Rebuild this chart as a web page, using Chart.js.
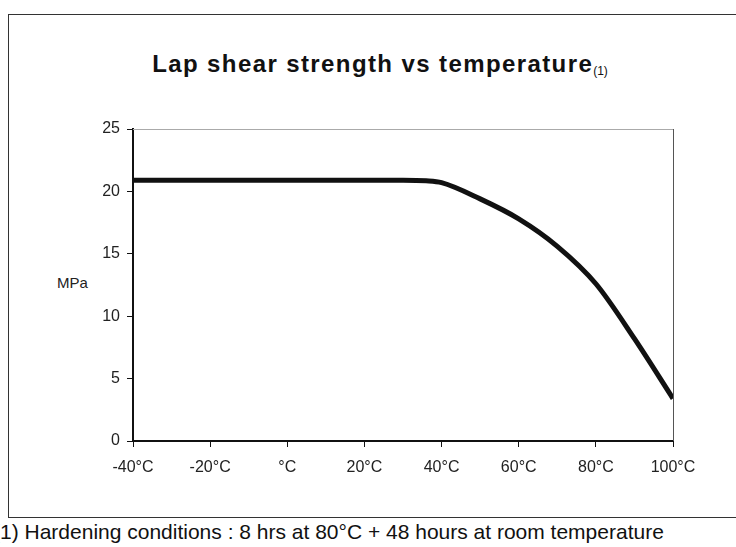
<!DOCTYPE html>
<html>
<head>
<meta charset="utf-8">
<script src="https://cdn.jsdelivr.net/npm/chart.js@4"></script>
<style>
  html, body { margin: 0; padding: 0; background: #fff; }
  body { width: 736px; height: 547px; position: relative; overflow: hidden; font-family: "Liberation Sans", Arial, sans-serif; }
  #frame { position: absolute; left: 8px; top: 14px; width: 760px; height: 504px; border: 1.5px solid #333; box-sizing: border-box; }
  #title { position: absolute; left: 0; width: 760px; top: 50px; text-align: center; font-size: 24px; letter-spacing: 1.4px; font-weight: bold; color: #111; }
  #title sub { font-size: 12px; font-weight: normal; letter-spacing: 0; vertical-align: -3px; }
  #ylabel { position: absolute; left: 57px; top: 274px; font-size: 15px; color: #222; }
  #note { position: absolute; left: -7px; top: 520px; font-size: 21px; color: #111; white-space: nowrap; }
  #wrap { position: absolute; left: 0; top: 0; width: 736px; height: 547px; }
</style>
</head>
<body>
<div id="frame"></div>
<div id="title">Lap shear strength vs temperature<sub>(1)</sub></div>
<div id="ylabel">MPa</div>
<div id="note">(1) Hardening conditions : 8 hrs at 80°C + 48 hours at room temperature</div>
<div id="wrap"><canvas id="chart" width="736" height="547"></canvas></div>
<script>
// temperature (°C) and lap shear strength (MPa)
const temps = [-40, -20, 0, 20, 30, 36, 40, 50, 60, 70, 80, 90, 100];
const strength = [20.9, 20.9, 20.9, 20.9, 20.9, 20.85, 20.7, 19.4, 17.8, 15.6, 12.6, 8.2, 3.4];

const xTickLabels = ['-40°C', '-20°C', '°C', '20°C', '40°C', '60°C', '80°C', '100°C'];
const yTicks = [0, 5, 10, 15, 20, 25];

// thin border round the plot area (top and right sides)
const plotBorder = {
  id: 'plotBorder',
  afterDraw(chart) {
    const { ctx, chartArea: a } = chart;
    ctx.save();
    ctx.lineWidth = 1;
    ctx.strokeStyle = '#aaa';
    ctx.beginPath();
    ctx.moveTo(a.left, a.top + 0.5);
    ctx.lineTo(a.right, a.top + 0.5);
    ctx.stroke();
    ctx.strokeStyle = '#555';
    ctx.beginPath();
    ctx.moveTo(a.right + 0.5, a.top);
    ctx.lineTo(a.right + 0.5, a.bottom);
    ctx.stroke();
    ctx.restore();
  }
};

const tickFont = { family: '"Liberation Sans", Arial, sans-serif', size: 16 };

new Chart(document.getElementById('chart').getContext('2d'), {
  type: 'line',
  data: {
    datasets: [{
      data: temps.map((t, i) => ({ x: t, y: strength[i] })),
      borderColor: '#111',
      borderWidth: 5,
      pointRadius: 0,
      cubicInterpolationMode: 'monotone',
      fill: false
    }]
  },
  options: {
    responsive: false,
    animation: false,
    layout: { padding: { left: 0, right: 63, top: 129, bottom: 60 } },
    plugins: { legend: { display: false }, tooltip: { enabled: false } },
    scales: {
      x: {
        type: 'linear',
        min: -40,
        max: 100,
        afterFit(scale) { scale.height = 46; },
        afterBuildTicks(scale) {
          scale.ticks = xTickLabels.map((_, i) => ({ value: -40 + i * 20 }));
        },
        ticks: {
          color: '#222',
          font: tickFont,
          padding: 11,
          maxRotation: 0,
          callback: (v) => xTickLabels[Math.round((v + 40) / 20)]
        },
        grid: { drawOnChartArea: false, tickLength: 6, color: '#111' },
        border: { display: true, color: '#111', width: 2 }
      },
      y: {
        min: 0,
        max: 25,
        afterFit(scale) { scale.width = 133; },
        afterBuildTicks(scale) {
          scale.ticks = yTicks.map(v => ({ value: v }));
        },
        ticks: { color: '#222', font: tickFont, padding: 7 },
        grid: { drawOnChartArea: false, tickLength: 6, color: '#111' },
        border: { display: true, color: '#111', width: 2 }
      }
    }
  },
  plugins: [plotBorder]
});
</script>
</body>
</html>
